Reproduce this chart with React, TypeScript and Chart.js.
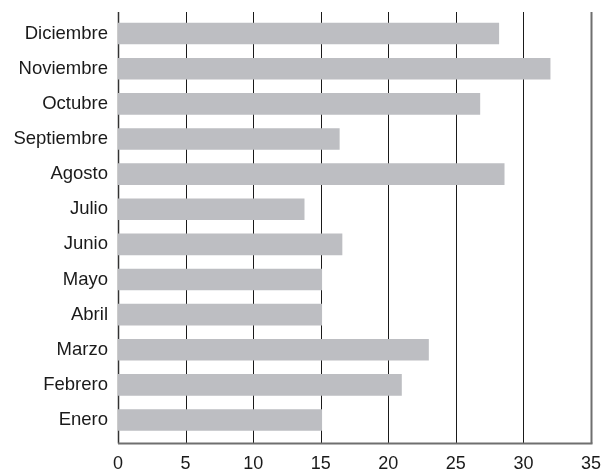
import React, { useEffect, useRef } from "react";
import { Chart, registerables } from "chart.js";

Chart.register(...registerables);

const categories = [
  "Enero", "Febrero", "Marzo", "Abril", "Mayo", "Junio",
  "Julio", "Agosto", "Septiembre", "Octubre", "Noviembre", "Diciembre",
];
const values = [15.1, 21, 23, 15.1, 15.1, 16.6, 13.8, 28.6, 16.4, 26.8, 32, 28.2];
const xTicks = [0, 5, 10, 15, 20, 25, 30, 35];

const FONT = "'Liberation Sans', Arial, sans-serif";

const gridPlugin = {
  id: "customGrid",
  beforeDatasetsDraw(chart: any) {
    const { ctx, chartArea, scales } = chart;
    const x = scales.x;
    const top = chartArea.top - 4;
    const bottom = chartArea.bottom + 6;
    ctx.save();
    xTicks.forEach((v) => {
      const px = Math.round(x.getPixelForValue(v)) + 0.5;
      ctx.beginPath();
      if (v === 35) {
        ctx.strokeStyle = "#6f6f6f";
        ctx.lineWidth = 2;
      } else if (v === 0) {
        ctx.strokeStyle = "#333333";
        ctx.lineWidth = 1.5;
      } else {
        ctx.strokeStyle = "#1a1a1a";
        ctx.lineWidth = 1;
      }
      ctx.moveTo(px, top);
      ctx.lineTo(px, bottom);
      ctx.stroke();
    });
    ctx.beginPath();
    ctx.strokeStyle = "#6f6f6f";
    ctx.lineWidth = 2;
    ctx.moveTo(x.getPixelForValue(0), bottom);
    ctx.lineTo(x.getPixelForValue(35) + 1.5, bottom);
    ctx.stroke();
    ctx.restore();
  },
};

export default function App() {
  const ref = useRef<HTMLCanvasElement | null>(null);
  useEffect(() => {
    document.body.style.margin = "0";
    if (!ref.current) return;
    const chart = new Chart(ref.current, {
      type: "bar",
      data: {
        labels: categories,
        datasets: [
          {
            data: values,
            backgroundColor: "#bdbec2",
            borderWidth: 0,
            categoryPercentage: 1,
            barPercentage: 0.615,
          },
        ],
      },
      options: {
        indexAxis: "y",
        animation: false,
        responsive: false,
        maintainAspectRatio: false,
        layout: { padding: { top: 16, right: 12, left: 0, bottom: 0 } },
        plugins: {
          legend: { display: false },
          tooltip: { enabled: false },
        },
        scales: {
          x: {
            min: 0,
            max: 35,
            afterBuildTicks: (scale: any) => {
              scale.ticks = xTicks.map((v) => ({ value: v }));
            },
            afterFit: (scale: any) => {
              scale.height = 31.4;
              scale.paddingLeft = 0;
              scale.paddingRight = 0;
            },
            grid: { display: false, drawTicks: false },
            border: { display: false },
            ticks: {
              padding: 16,
              maxRotation: 0,
              color: "#1a1a1a",
              font: { family: FONT, size: 18 },
            },
          },
          y: {
            reverse: true,
            afterFit: (scale: any) => {
              scale.width = 118;
              scale.paddingTop = 0;
              scale.paddingBottom = 0;
            },
            grid: { display: false, drawTicks: false },
            border: { display: false },
            ticks: {
              padding: 10,
              color: "#1a1a1a",
              font: { family: FONT, size: 18.5 },
            },
          },
        },
      },
      plugins: [gridPlugin],
    });
    return () => chart.destroy();
  }, []);
  return (
    <div style={{ width: 603, height: 469, position: "relative" }}>
      <canvas ref={ref} width={603} height={469} style={{ width: 603, height: 469 }} />
    </div>
  );
}
